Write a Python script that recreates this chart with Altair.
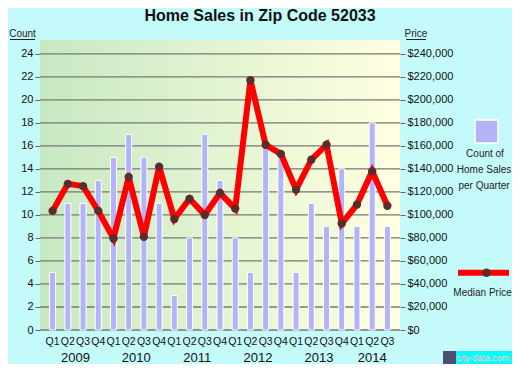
import altair as alt
import pandas as pd

quarters = ["Q1", "Q2", "Q3", "Q4"] * 5 + ["Q1", "Q2", "Q3"]
years = [2009] * 4 + [2010] * 4 + [2011] * 4 + [2012] * 4 + [2013] * 4 + [2014] * 3
counts = [5, 11, 11, 13, 15, 17, 15, 11, 3, 8, 17, 13, 8, 5, 16, 15, 5, 11, 9, 14, 9, 18, 9]
prices = [103500, 127000, 125000, 103500, 79500, 133000, 81000, 142000, 96500, 114000,
          100000, 119000, 105500, 217000, 161000, 153000, 122000, 148000, 161000, 92500,
          109000, 138000, 108000]
count_ticks = list(range(0, 25, 2))
price_ticks = list(range(0, 240001, 20000))

n = len(counts)
df = pd.DataFrame({"pos": [i + 0.5 for i in range(n)], "quarter": quarters, "year": years,
                   "count": counts, "price": prices})
yr = df.groupby("year", as_index=False)["pos"].mean()
yr["label"] = yr["year"].astype(str)
grid_df = pd.DataFrame({"g": count_ticks})
one = pd.DataFrame({"a": [0]})

W, H = 360, 290
BAR = "#B3B3F7"
FONT = "Liberation Sans"
x_scale = alt.Scale(domain=[0, n], nice=False, zero=False)
cnt_scale = alt.Scale(domain=[0, 25.2], nice=False)
price_scale = alt.Scale(domain=[0, 252000], nice=False)

cnt_axis = alt.Axis(orient="left", values=count_ticks, title=None, grid=False, tickSize=5,
                    tickColor="#666666", domain=False, labelFontSize=11,
                    labelColor="#111111", labelPadding=2)

bg = alt.Chart(one).mark_rect(
    color=alt.LinearGradient(gradient="linear", x1=0, x2=1, y1=0, y2=0,
                             stops=[alt.GradientStop(color="#C7E9C2", offset=0),
                                    alt.GradientStop(color="#FFFFE0", offset=1)])
).encode(x=alt.value(0), x2=alt.value(W), y=alt.value(0), y2=alt.value(H))

grid = alt.Chart(grid_df).mark_rule(color="#777777", strokeWidth=1.3).encode(
    y=alt.Y("g:Q", scale=cnt_scale, axis=cnt_axis), x=alt.value(0), x2=alt.value(W))

bars = alt.Chart(df).mark_bar(size=6, color=BAR, stroke="white", strokeWidth=1).encode(
    x=alt.X("pos:Q", scale=x_scale,
            axis=alt.Axis(values=list(range(n + 1)), labels=False, title=None, grid=False,
                          tickSize=6, tickColor="#666666", domainColor="#777777")),
    y=alt.Y("count:Q", scale=cnt_scale, axis=cnt_axis))

left = alt.layer(bg, grid, bars)

line = alt.Chart(df).mark_line(
    color="#FF0000", strokeWidth=6,
    point=alt.OverlayMarkDef(filled=True, color="#5B2C2C", size=70, opacity=1)
).encode(
    x=alt.X("pos:Q", scale=x_scale, axis=None),
    y=alt.Y("price:Q", scale=price_scale,
            axis=alt.Axis(orient="right", format="$,d", values=price_ticks, title=None,
                          grid=False, tickSize=5, tickColor="#666666", domain=False,
                          labelFontSize=11, labelColor="#111111", labelPadding=2)))

qlab = alt.Chart(df).mark_text(fontSize=10.5, baseline="middle", color="#111111").encode(
    x=alt.X("pos:Q", scale=x_scale, axis=None), y=alt.value(H + 12), text="quarter:N")
ylab = alt.Chart(yr).mark_text(fontSize=13, baseline="middle", color="#111111").encode(
    x=alt.X("pos:Q", scale=x_scale, axis=None), y=alt.value(H + 28), text="label:N")


def txt(s, x, y, size=10, weight="normal", align="center", color="#222222"):
    return alt.Chart(one).mark_text(text=s, fontSize=size, fontWeight=weight, align=align,
                                    baseline="middle", color=color).encode(
        x=alt.value(x), y=alt.value(y))


def rule(x1, x2, y, color="#222222", w=1):
    return alt.Chart(one).mark_rule(color=color, strokeWidth=w).encode(
        x=alt.value(x1), x2=alt.value(x2), y=alt.value(y))


title = txt("Home Sales in Zip Code 52033", 220, -24.5, size=16, weight="bold",
            color="#111111")
count_t = txt("Count", -17.5, -6, size=10)
count_u = rule(-30, -5, -0.5)
price_t = txt("Price", 376, -6, size=10)
price_u = rule(366, 386, -0.5)

leg_sq = alt.Chart(one).mark_rect(color=BAR, stroke="white", strokeWidth=1.5).encode(
    x=alt.value(435), x2=alt.value(458), y=alt.value(80), y2=alt.value(103))
leg1 = txt("Count of", 445, 114)
leg2 = txt("Home Sales", 444, 130)
leg3 = txt("per Quarter", 444, 145.5)
leg_line = rule(418, 469, 232.7, color="#FF0000", w=6)
leg_pt = alt.Chart(one).mark_circle(color="#5B2C2C", size=70, opacity=1).encode(
    x=alt.value(446.5), y=alt.value(232.7))
leg4 = txt("Median Price", 442.5, 253)

logo_box = alt.Chart(one).mark_rect(color="#00FFFF").encode(
    x=alt.value(416), x2=alt.value(472), y=alt.value(311), y2=alt.value(324))
logo_icon = alt.Chart(one).mark_rect(color="#4A5070").encode(
    x=alt.value(403), x2=alt.value(416), y=alt.value(311), y2=alt.value(324))
logo_sh = txt("city-data.com", 443.5, 318, size=9, color="#777777")
logo_t = txt("city-data.com", 443, 317.5, size=9, color="#F4F4F4")

chart = alt.layer(
    left, line, qlab, ylab, title, count_t, count_u, price_t, price_u,
    leg_sq, leg1, leg2, leg3, leg_line, leg_pt, leg4, logo_box, logo_icon, logo_sh, logo_t
).resolve_scale(y="independent").properties(
    width=W, height=H,
    padding={"left": 32, "top": 32, "right": 112, "bottom": 34},
    autosize=alt.AutoSizeParams(type="none"),
    background="#C4FAFA",
).configure(font=FONT).configure_view(stroke=None)

chart.save("out.html", embed_options={"renderer": "svg", "actions": False})
